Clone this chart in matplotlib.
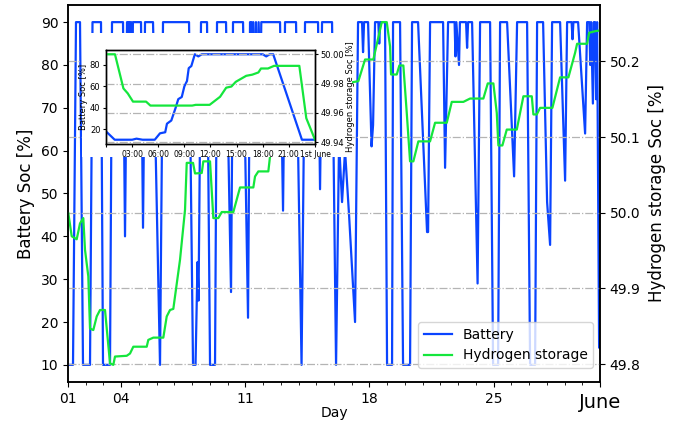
import matplotlib
matplotlib.use("Agg")
import matplotlib.pyplot as plt
from matplotlib.patches import Rectangle
from matplotlib.lines import Line2D

# ---------------- data ----------------
# main chart, x in day-of-month (1 .. 31 == "June")
bat_day = [1.000, 1.282, 1.451, 1.677, 1.846, 2.241, 2.382, 2.861, 2.974, 3.369,
           3.482, 4.102, 4.215, 4.328, 4.40, 4.43, 4.47, 4.52, 4.56, 4.61, 4.66,
           5.117, 5.230, 5.343, 5.794, 6.189, 6.358,
           7.825, 8.050, 8.191, 8.304, 8.360, 8.501, 8.840, 9.009, 9.291, 9.404,
           9.911, 10.193, 10.306, 10.870, 11.152, 11.265,
           11.35, 11.40, 11.45, 11.55, 11.60, 11.70, 11.75, 11.85, 11.90,
           12.957, 13.126, 13.239, 13.859,
           14.170, 14.367, 15.100, 15.213, 15.326, 15.890, 16.116, 16.285, 16.454, 16.623,
           16.849, 17.187, 17.356, 17.582, 17.638, 17.695, 17.921, 18.118, 18.203, 18.315,
           18.50, 18.55, 18.60,
           18.879, 18.992, 19.274, 19.330, 19.725, 19.894, 20.289, 20.402, 20.740, 21.248,
           21.305, 21.418, 22.151, 22.264, 22.433, 22.80, 22.85, 22.90, 23.05, 23.10,
           23.448, 23.505, 23.561, 23.787, 24.097,
           24.238, 24.802, 24.971, 25.253, 25.366, 25.761, 26.156, 26.325, 26.889, 27.058,
           27.340, 27.453, 27.791, 28.017, 28.186, 28.299, 28.750, 29.032, 29.145,
           29.40, 29.45, 29.50, 29.765,
           30.160, 30.273, 30.40, 30.45, 30.50, 30.60, 30.65,
           30.724, 30.780, 30.837, 30.950, 31.000]
bat_soc = [10, 10, 90, 90, 10, 10, 90, 90, 10, 10,
           90, 90, 40, 90, 90, 72, 90, 70, 90, 72, 90,
           90, 42, 90, 90, 10, 90,
           90, 10, 10, 34, 25, 90, 90, 10, 10, 90,
           90, 27, 90, 90, 21, 90,
           90, 70, 90, 72, 90, 70, 90, 74, 90,
           90, 46, 90, 90,
           10, 90, 90, 51, 90, 90, 10, 62, 48, 60,
           45, 20, 90, 90, 83, 90, 90, 61, 66, 90,
           90, 85, 90,
           90, 10, 10, 90, 90, 10, 10, 90, 90, 41,
           41, 90, 90, 56, 90, 90, 82, 90, 80, 90,
           90, 84, 90, 90, 29,
           90, 90, 10, 10, 90, 90, 54, 90, 90, 10,
           10, 90, 90, 48, 38, 90, 90, 53, 90,
           90, 86, 90, 90,
           64, 90, 90, 80, 90, 71, 90,
           90, 72, 90, 14, 14]

h2_day = [1.017, 1.209, 1.491, 1.677, 1.863, 1.959, 2.145, 2.241, 2.427, 2.619,
          2.805, 3.087, 3.369, 3.555, 3.651, 4.311, 4.497, 4.683, 5.439, 5.529,
          5.811, 6.375, 6.567, 6.753, 6.939, 7.317, 7.599, 7.695, 8.050, 8.163,
          8.541, 8.631, 9.009, 9.195, 9.477, 9.669, 10.323, 10.701, 11.451, 11.547,
          11.733, 12.297, 12.393, 13.239, 14.085, 15.213, 16.341, 16.905, 17.373, 17.751,
          18.219, 18.693, 18.975, 19.161, 19.218, 19.539, 19.686, 19.911, 20.103, 20.289,
          20.475, 20.757, 21.417, 21.699, 22.359, 22.641, 23.295, 23.673, 24.423, 24.671,
          24.987, 25.179, 25.269, 25.495, 25.743, 26.307, 26.680, 27.153, 27.244, 27.435,
          27.622, 28.315, 28.750, 29.218, 29.596, 29.708, 30.273, 30.386, 30.724, 31.000]
h2_soc = [49.9996, 49.969, 49.965, 49.986, 49.993, 49.951, 49.916, 49.847, 49.845, 49.863,
          49.8715, 49.8715, 49.801, 49.799, 49.810, 49.811, 49.814, 49.823, 49.823, 49.832,
          49.835, 49.835, 49.863, 49.8715, 49.873, 49.938, 50.004, 50.066, 50.066, 50.052,
          50.0526, 50.068, 50.068, 49.993, 49.993, 50.001, 50.001, 50.0335, 50.0335, 50.048,
          50.0547, 50.0547, 50.0746, 50.100, 50.130, 50.155, 50.165, 50.172, 50.174, 50.2026,
          50.2026, 50.252, 50.252, 50.220, 50.1828, 50.1828, 50.1947, 50.1947, 50.132, 50.068,
          50.068, 50.0944, 50.0944, 50.119, 50.119, 50.1466, 50.1466, 50.151, 50.151, 50.171,
          50.171, 50.132, 50.089, 50.089, 50.110, 50.110, 50.154, 50.154, 50.130, 50.130,
          50.1387, 50.1387, 50.179, 50.179, 50.2115, 50.2234, 50.2234, 50.238, 50.240, 50.241]

main_ticks = [1, 4, 11, 18, 25]
main_tick_labels = ["01", "04", "11", "18", "25"]
month_label = "June"
left_ticks = [10, 20, 30, 40, 50, 60, 70, 80, 90]
right_ticks = [49.8, 49.9, 50.0, 50.1, 50.2]

# inset: last day, x in hours
in_bat_h = [0.0, 1.0, 3.0, 3.5, 4.2, 5.6, 6.2, 6.8, 7.0, 7.5, 8.0, 8.3, 8.7, 9.0, 9.3,
            9.5, 9.8, 10.2, 10.6, 11.0, 18.0, 18.4, 18.8, 19.2, 22.5, 24.0]
in_bat_soc = [17.8, 10, 10, 11, 10, 10, 16, 17, 25, 28, 40, 48, 50, 60, 65,
              77, 79, 90, 88, 90, 90, 88, 90, 90, 10, 10]
in_h2_h = [0.0, 1.03, 2.0, 2.5, 3.1, 4.6, 5.1, 9.9, 10.3, 11.9, 13.1, 13.8, 14.4, 14.9,
           16.1, 16.8, 17.5, 17.8, 18.6, 19.3, 22.2, 23.0, 24.0]
in_h2_soc = [50.0, 50.0, 49.9767, 49.9733, 49.9677, 49.9677, 49.965, 49.965, 49.9655, 49.9655,
             49.971, 49.9772, 49.978, 49.9812, 49.9853, 49.9861, 49.9876, 49.9903, 49.9903,
             49.9921, 49.9921, 49.9564, 49.9417]
in_ticks = [0, 3, 6, 9, 12, 15, 18, 21, 24]
in_tick_labels = ["", "03:00", "06:00", "09:00", "12:00", "15:00", "18:00", "21:00", "1st June"]
in_right_ticks = [49.94, 49.96, 49.98, 50.00]
in_left_ticks = [20, 40, 60, 80]

# ---------------- styling ----------------
BLUE = "#0a44ff"
GREEN = "#14e63c"
GRID = "#b4b4b4"

plt.rcParams["font.family"] = ["DejaVu Sans"]

fig = plt.figure(figsize=(6.81, 4.26), dpi=100)
ax = fig.add_axes([68/681, 1-382/426, 532/681, 377/426])
ax2 = ax.twinx()

ax.plot(bat_day, bat_soc, color=BLUE, lw=1.6, zorder=2)
ax2.plot(h2_day, h2_soc, color=GREEN, lw=1.6, zorder=2)

ax.set_xlim(1, 31)
ax.set_xticks(main_ticks + [31])
ax.set_xticklabels(main_tick_labels + [""], fontsize=10)
ax.set_xticks(range(1, 32), minor=True)
ax.set_yticks(left_ticks)
ax.tick_params(axis="y", labelsize=10)
ax2.set_yticks(right_ticks)
ax2.set_yticklabels([f"{v:.1f}" for v in right_ticks])
ax2.tick_params(axis="y", labelsize=10)
ax2.yaxis.grid(True, color=GRID, linestyle="-.", linewidth=0.9)
ax.annotate(month_label, xy=(31, 0), xycoords=("data", "axes fraction"),
            xytext=(0, -18.5), textcoords="offset points", ha="center",
            va="baseline", fontsize=14)

ax.set_xlabel("Day", fontsize=10, labelpad=0)
ax.set_ylabel("Battery Soc [%]", fontsize=12)
ax2.set_ylabel("Hydrogen storage Soc [%]", fontsize=12, labelpad=5)

for a in (ax, ax2):
    for s in a.spines.values():
        s.set_linewidth(1.1)

handles = [Line2D([], [], color=BLUE, lw=1.6), Line2D([], [], color=GREEN, lw=1.6)]
ax2.legend(handles, ["Battery", "Hydrogen storage"], loc="lower right",
           bbox_to_anchor=(0.987, 0.037), borderaxespad=0, fontsize=10)

# white backing box behind the inset
fig.patches.append(Rectangle((82/681, 1-157/426), 270/681, 124/426,
                             transform=fig.transFigure, facecolor="white",
                             edgecolor="none", zorder=3))

ia = fig.add_axes([106/681, 1-144/426, 209/681, 94/426])
ia.set_zorder(5)
ia2 = ia.twinx()
ia2.set_zorder(6)
ia2.patch.set_visible(False)
ia.plot(in_bat_h, in_bat_soc, color=BLUE, lw=1.6)
ia2.plot(in_h2_h, in_h2_soc, color=GREEN, lw=1.6)
ia.set_xlim(0, 24)
ia.set_xticks(in_ticks)
ia.set_xticklabels(in_tick_labels)
ia.set_yticks(in_left_ticks)
ia2.set_yticks(in_right_ticks)
ia2.set_yticklabels([f"{v:.2f}" for v in in_right_ticks])
ia.tick_params(axis="x", labelsize=5.5, length=2.5, pad=1.5)
ia.tick_params(axis="y", labelsize=6, length=2.5, pad=1.5)
ia2.tick_params(labelsize=6, length=2.5, pad=1.5)
ia2.yaxis.grid(True, color=GRID, linestyle="-.", linewidth=0.9)
ia.set_ylabel("Battery Soc [%]", fontsize=6, labelpad=1)
ia2.set_ylabel("Hydrogen storage Soc [%]", fontsize=6, labelpad=1)
for a in (ia, ia2):
    for s in a.spines.values():
        s.set_linewidth(1.0)

fig.savefig("out.png", dpi=100)
